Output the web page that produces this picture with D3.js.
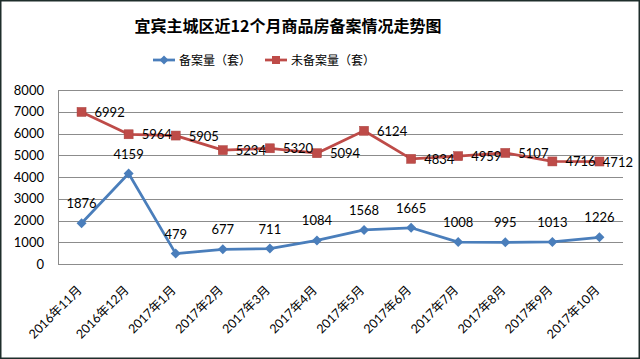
<!DOCTYPE html>
<html><head><meta charset="utf-8">
<script src="https://cdn.jsdelivr.net/npm/d3@7"></script>
<style>
html,body{margin:0;padding:0;background:#fff;}
svg{display:block;}
</style></head>
<body>
<svg id="c" width="640" height="359"></svg>
<script>
const categories = ["2016年11月","2016年12月","2017年1月","2017年2月","2017年3月","2017年4月","2017年5月","2017年6月","2017年7月","2017年8月","2017年9月","2017年10月"];
const filed = [1876,4159,479,677,711,1084,1568,1665,1008,995,1013,1226];
const unfiled = [6992,5964,5905,5234,5320,5094,6124,4834,4959,5107,4716,4712];
const yTicks = [0,1000,2000,3000,4000,5000,6000,7000,8000];
const title = "宜宾主城区近12个月商品房备案情况走势图";
const seriesNames = ["备案量（套）","未备案量（套）"];

(function(){
const blue = "#4A7EBB", red = "#BE4B48";
const numFont = "Lato, 'Open Sans', sans-serif";
const cjkFont = "'Noto Sans CJK SC', sans-serif";
const mixFont = "Lato, 'Noto Sans CJK SC', sans-serif";

const svg = d3.select("#c");
svg.append("rect").attr("x",0.75).attr("y",0.75).attr("width",638.5).attr("height",357.5)
  .attr("fill","#fff").attr("stroke","#1e2d2b").attr("stroke-width",1.5);

const pL=58, pR=623, pT=90, pB=264;
const x = d3.scaleBand().domain(categories).range([pL,pR]);
const cx = c => x(c) + x.bandwidth()/2;
const y = d3.scaleLinear().domain([0,8000]).range([pB,pT]);

svg.append("g").selectAll("line").data(yTicks).join("line")
  .attr("x1",pL).attr("x2",pR).attr("y1",d=>Math.round(y(d))+0.5).attr("y2",d=>Math.round(y(d))+0.5)
  .attr("stroke","#8c8c8c").attr("stroke-width",1);
svg.append("line").attr("x1",pL+0.5).attr("x2",pL+0.5).attr("y1",pT).attr("y2",pB+0.5)
  .attr("stroke","#8c8c8c");

const yAxis = d3.axisLeft(y).tickValues(yTicks).tickSize(0).tickPadding(14).tickFormat(d3.format("d"));
const ya = svg.append("g").attr("transform",`translate(${pL},0)`).call(yAxis);
ya.select(".domain").remove();
ya.selectAll("text").attr("font-family",numFont).attr("font-size",13).attr("fill","#000");

const xAxis = d3.axisBottom(x).tickSize(0).tickPadding(0);
const xa = svg.append("g").attr("transform",`translate(0,${pB})`).call(xAxis);
xa.select(".domain").remove();
xa.selectAll(".tick text")
  .attr("font-family",mixFont).attr("font-size",12.5).attr("fill","#000")
  .attr("text-anchor","end").attr("dy",0).attr("y",0)
  .attr("transform","translate(1,27) rotate(-45)");

const line = arr => d3.line().x((d,i)=>cx(categories[i])).y(d=>y(d))(arr);
svg.append("path").attr("d",line(unfiled)).attr("fill","none").attr("stroke",red).attr("stroke-width",2.75).attr("stroke-linejoin","round");
svg.append("path").attr("d",line(filed)).attr("fill","none").attr("stroke",blue).attr("stroke-width",2.75).attr("stroke-linejoin","round");

const sq = 9, dm = 5;
svg.append("g").selectAll("rect").data(unfiled).join("rect")
  .attr("x",(d,i)=>cx(categories[i])-sq/2).attr("y",d=>y(d)-sq/2)
  .attr("width",sq).attr("height",sq).attr("fill",red).attr("stroke","#a8403d").attr("stroke-width",0.5);
const diamond = (px,py,r)=>`M${px},${py-r}L${px+r},${py}L${px},${py+r}L${px-r},${py}Z`;
svg.append("g").selectAll("path").data(filed).join("path")
  .attr("d",(d,i)=>diamond(cx(categories[i]),y(d),dm)).attr("fill",blue);

svg.append("g").selectAll("text").data(filed).join("text")
  .attr("x",(d,i)=>cx(categories[i])).attr("y",d=>y(d)-15)
  .attr("text-anchor","middle").attr("font-family",numFont).attr("font-size",13).attr("fill","#000")
  .text(d=>d);
const rl = svg.append("g").selectAll("text").data(unfiled).join("text")
  .attr("y",d=>y(d)+5)
  .attr("text-anchor","start").attr("font-family",numFont).attr("font-size",13).attr("fill","#000")
  .text(d=>d);
rl.each(function(d,i){
  const w = this.getComputedTextLength();
  const px = Math.min(cx(categories[i])+13, 633 - w);
  d3.select(this).attr("x",px);
});

svg.append("text").attr("x",288).attr("y",32).attr("text-anchor","middle")
  .attr("font-family",cjkFont).attr("font-weight","bold").attr("font-size",16).attr("fill","#000")
  .text(title);

const legend = [{name:seriesNames[0],color:blue,type:"d",x:153},{name:seriesNames[1],color:red,type:"s",x:265}];
const lg = svg.append("g").selectAll("g").data(legend).join("g").attr("transform",d=>`translate(${d.x},60)`);
lg.append("line").attr("x1",0).attr("x2",22).attr("y1",0).attr("y2",0).attr("stroke",d=>d.color).attr("stroke-width",2.75);
lg.filter(d=>d.type==="d").append("path").attr("d",diamond(11,0,4.5)).attr("fill",blue);
lg.filter(d=>d.type==="s").append("rect").attr("x",7).attr("y",-4).attr("width",8).attr("height",8).attr("fill",red);
lg.append("text").attr("x",26).attr("y",4.5).attr("font-family",cjkFont).attr("font-size",12).attr("fill","#000").text(d=>d.name);
})();
</script>
</body></html>
